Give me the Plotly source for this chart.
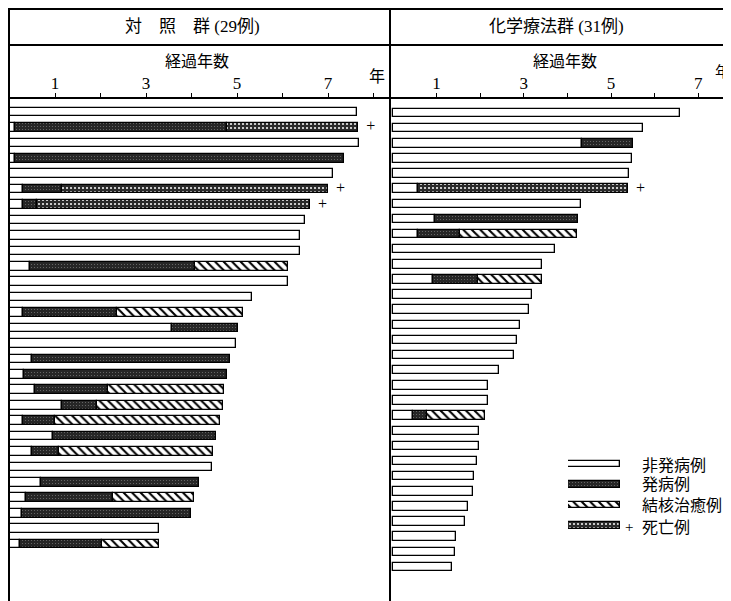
import plotly.graph_objects as go

# page has an 8px body margin: figure is laid out in window pixels minus 8
OFF = 8
W, H = 731 - OFF, 601 - OFF

# ---------------- data (years elapsed) ----------------
ctrl_free = [7.64, 0.12, 7.68, 0.12, 7.11, 0.30, 0.30, 6.50, 6.38, 6.38,
             0.45, 6.12, 5.33, 0.30, 3.57, 4.98, 0.49, 0.32, 0.56, 1.15,
             0.30, 0.96, 0.49, 4.45, 0.69, 0.36, 0.27, 3.29, 0.23]
ctrl_onset = [None, 4.78, None, 7.35, None, 1.15, 0.60, None, None, None,
              4.08, None, None, 2.36, 5.02, None, 4.85, 4.78, 2.17, 1.92,
              1.00, 4.54, 1.09, None, 4.17, 2.28, 3.99, None, 2.03]
ctrl_cure = [None, None, None, None, None, None, None, None, None, None,
             6.12, None, None, 5.13, None, None, None, None, 4.71, 4.69,
             4.63, None, 4.47, None, None, 4.06, None, None, 3.29]
ctrl_death = [None, 7.66, None, None, None, 7.00, 6.60, None, None, None,
              None, None, None, None, None, None, None, None, None, None,
              None, None, None, None, None, None, None, None, None]

chem_free = [6.58, 5.73, 4.33, 5.48, 5.41, 0.57, 4.31, 0.96, 0.57, 3.72,
             3.42, 0.92, 3.19, 3.12, 2.91, 2.84, 2.78, 2.43, 2.18, 2.18,
             0.46, 1.97, 1.97, 1.93, 1.86, 1.83, 1.72, 1.65, 1.44, 1.42, 1.35]
chem_onset = [None, None, 5.50, None, None, None, None, 4.24, 1.54, None,
              None, 1.95, None, None, None, None, None, None, None, None,
              0.78, None, None, None, None, None, None, None, None, None, None]
chem_cure = [None, None, None, None, None, None, None, None, 4.22, None,
             None, 3.42, None, None, None, None, None, None, None, None,
             2.11, None, None, None, None, None, None, None, None, None, None]
chem_death = [None, None, None, None, None, 5.39, None, None, None, None,
              None, None, None, None, None, None, None, None, None, None,
              None, None, None, None, None, None, None, None, None, None, None]

tick_vals = [1, 2, 3, 4, 5, 6, 7, 8]
tick_text = ["1", "", "3", "", "5", "", "7", ""]

panel_titles = ["対　照　群 (29例)", "化学療法群 (31例)"]
axis_title = "経過年数"
year_unit = "年"
legend_labels = ["非発病例", "発病例", "結核治癒例", "死亡例"]

# ---------------- styles ----------------
FONT = "Liberation Serif, Noto Sans CJK JP, serif"
OUT = dict(color="black", width=1.3)
BAR_W = 0.56
STY = {
    "free": dict(color="white", line=OUT),
    "onset": dict(color="#2a2a2a", line=OUT,
                  pattern=dict(shape=".", bgcolor="#262626", fgcolor="#6e6e6e",
                               size=3, solidity=0.12, fillmode="replace")),
    "cure": dict(color="white", line=OUT,
                 pattern=dict(shape="\\", bgcolor="white", fgcolor="black",
                              size=6, solidity=0.35, fillmode="replace")),
    "death": dict(color="#333", line=OUT,
                  pattern=dict(shape=".", bgcolor="#2a2a2a", fgcolor="#f0f0f0",
                               size=4, solidity=0.22, fillmode="replace")),
}

fig = go.Figure()


def add_panel(free, onset, cure, death, xa, ya):
    n = len(free)
    ids = list(range(n))
    fig.add_trace(go.Bar(orientation="h", y=ids, x=free, base=[0] * n,
                         width=BAR_W, marker=STY["free"], xaxis=xa, yaxis=ya,
                         showlegend=False, hoverinfo="skip"))
    oy, ob, ox = [], [], []
    for i in ids:
        if onset[i] is not None:
            oy.append(i); ob.append(free[i]); ox.append(onset[i] - free[i])
    fig.add_trace(go.Bar(orientation="h", y=oy, x=ox, base=ob, width=BAR_W,
                         marker=STY["onset"], xaxis=xa, yaxis=ya,
                         showlegend=False, hoverinfo="skip"))
    for key, arr in (("cure", cure), ("death", death)):
        yy, bb, xx = [], [], []
        for i in ids:
            if arr[i] is not None:
                b = onset[i] if onset[i] is not None else free[i]
                yy.append(i); bb.append(b); xx.append(arr[i] - b)
        if yy:
            fig.add_trace(go.Bar(orientation="h", y=yy, x=xx, base=bb,
                                 width=BAR_W, marker=STY[key], xaxis=xa,
                                 yaxis=ya, showlegend=False, hoverinfo="skip"))
    py = [i for i in ids if death[i] is not None]
    px = [death[i] for i in py]
    fig.add_trace(go.Scatter(x=px, y=py, mode="text", text=["  +"] * len(py),
                             textposition="middle right",
                             textfont=dict(size=16, color="black", family=FONT),
                             xaxis=xa, yaxis=ya, showlegend=False,
                             hoverinfo="skip"))


add_panel(ctrl_free, ctrl_onset, ctrl_cure, ctrl_death, "x", "y")
add_panel(chem_free, chem_onset, chem_cure, chem_death, "x2", "y2")

leg_keys = ["free", "onset", "cure", "death"]
for i, k in enumerate(leg_keys):
    fig.add_trace(go.Bar(orientation="h", y=[i], x=[1], base=[0], width=0.3,
                         marker=STY[k], xaxis="x3", yaxis="y3",
                         showlegend=False, hoverinfo="skip"))


def py2p(y):
    return 1 - (y - OFF) / H


def px2p(x):
    return (x - OFF) / W


top = py2p(98)
xcommon = dict(side="top", tickvals=tick_vals, ticktext=tick_text,
               ticks="outside", ticklen=4, tickwidth=1, tickcolor="black",
               showline=False, showgrid=False, zeroline=False,
               tickfont=dict(family=FONT, size=17, color="black"),
               ticklabelstandoff=-3, fixedrange=True)
fig.update_layout(
    width=W, height=H, margin=dict(l=0, r=0, t=0, b=0),
    paper_bgcolor="white", plot_bgcolor="rgba(0,0,0,0)",
    barmode="overlay", bargap=0,
    xaxis=dict(domain=[px2p(9), px2p(390)], range=[-0.011, 8.36],
               anchor="y", **xcommon),
    yaxis=dict(domain=[0, top], range=[31.69, -0.907], visible=False,
               anchor="x"),
    xaxis2=dict(domain=[px2p(391), 1], range=[-0.046, 7.752],
                anchor="y2", **xcommon),
    yaxis2=dict(domain=[0, top], range=[32.25, -0.991], visible=False,
                anchor="x2"),
    xaxis3=dict(domain=[px2p(568), px2p(620)], range=[0, 1], visible=False,
                anchor="y3"),
    yaxis3=dict(domain=[py2p(536), py2p(454)], range=[3.51, -0.49],
                visible=False, anchor="x3"),
)

lines = [
    (8, 9, 731, 9), (8, 45, 731, 45), (8, 98, 731, 98),
    (9, 8, 9, 601), (390, 8, 390, 601),
]
for x0, y0, x1, y1 in lines:
    fig.add_shape(type="line", xref="paper", yref="paper",
                  x0=px2p(x0), y0=py2p(y0), x1=px2p(x1), y1=py2p(y1),
                  line=dict(color="black", width=2))

ann = []
for txt, cx in zip(panel_titles, [193, 556]):
    ann.append(dict(text=txt, x=px2p(cx), y=py2p(27), font=dict(size=17)))
for cx in [197, 565]:
    ann.append(dict(text=axis_title, x=px2p(cx), y=py2p(62), font=dict(size=16)))
ann.append(dict(text=year_unit, x=px2p(377), y=py2p(77), font=dict(size=16)))
ann.append(dict(text=year_unit, x=px2p(722), y=py2p(72), font=dict(size=15)))
for lab, cy in zip(legend_labels, [465, 484, 505, 527]):
    ann.append(dict(text=lab, x=px2p(640), y=py2p(cy), xanchor="left",
                    font=dict(size=16)))
ann.append(dict(text="+", x=px2p(629), y=py2p(527), font=dict(size=15)))
for a in ann:
    a.setdefault("xanchor", "center")
    a.update(xref="paper", yref="paper", showarrow=False, yanchor="middle")
    a["font"].update(family=FONT, color="black")
fig.update_layout(annotations=ann)

fig.write_html("out.html")
